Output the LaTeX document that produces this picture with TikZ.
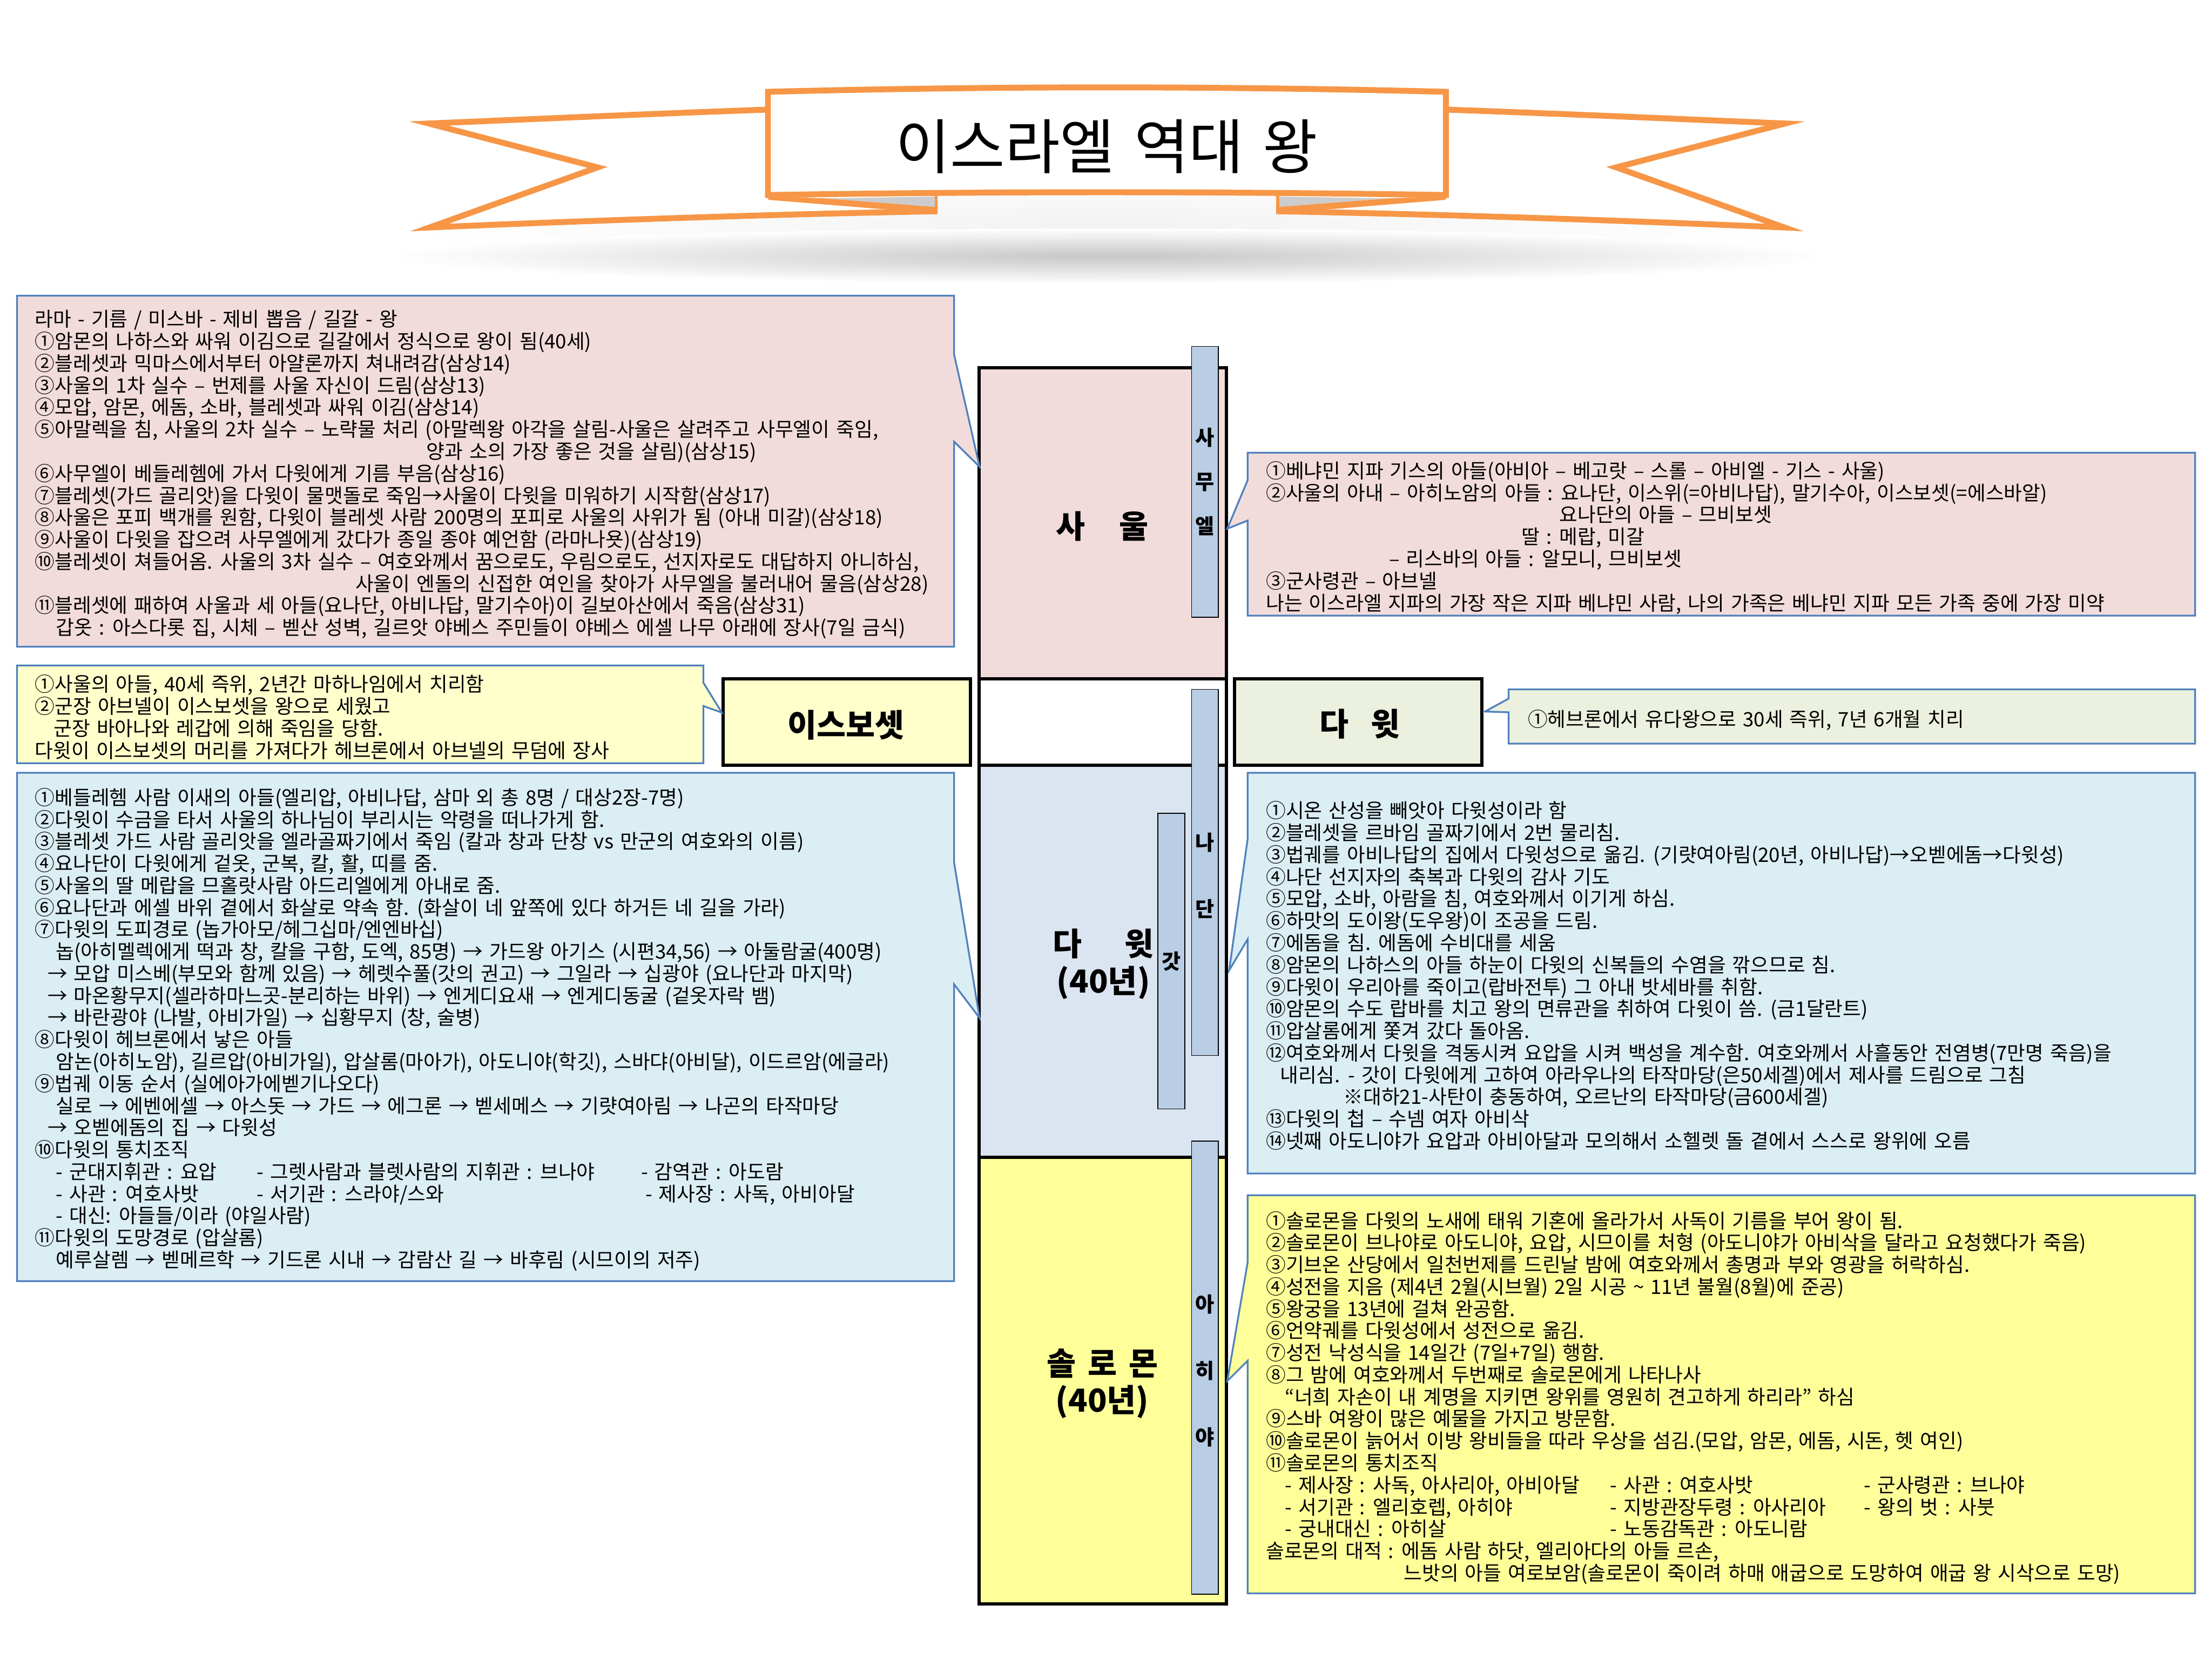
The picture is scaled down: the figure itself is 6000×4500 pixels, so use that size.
\documentclass[tikz,border=0pt]{standalone}
\usepackage{fontspec}
\setmainfont{Noto Sans CJK KR}[WordSpace=1.45]
\newdimen\pxu \pxu=0.25pt
\newcommand{\ind}[1]{\hspace*{#1\pxu}}
\newcommand{\tabc}[2]{\makebox[#1\pxu][l]{#2}}
\definecolor{ribbon}{HTML}{F79646}
\definecolor{calloutline}{HTML}{4F81BD}
\definecolor{saulfill}{HTML}{F2DCDB}
\definecolor{davidfill}{HTML}{DBE5F1}
\definecolor{solfill}{HTML}{FFFF99}
\definecolor{ishfill}{HTML}{FFFFCC}
\definecolor{greenfill}{HTML}{EBF1DE}
\definecolor{bluefill}{HTML}{DBEEF4}
\definecolor{prophet}{HTML}{B9CDE5}
\AtBeginDocument{\lineskiplimit=-30pt\relax}
\tikzset{
  x=0.25pt,y=-0.25pt,
  callout/.style={draw=calloutline,line width=1.2pt,line join=miter},
  body/.style={anchor=north west,inner sep=0pt,outer sep=0pt,align=left,font=\fontsize{13.45}{14.93}\selectfont},
  cell/.style={draw=black,line width=2.2pt},
  headbox/.style={draw=black,line width=2.2pt,inner sep=0pt},
  bigname/.style={inner sep=0pt,align=center,font=\fontsize{21.5}{25}\selectfont\bfseries},
  prophetbox/.style={draw=black,line width=0.6pt,fill=prophet,inner sep=0pt,align=center,font=\fontsize{14}{30}\selectfont\bfseries},
  band/.style={draw=ribbon,line width=4pt,miter limit=12},
}
\newcommand{\ribbontail}{%
  \fill[white] (2090,297) .. controls (1780,308) and (1470,322) .. (1163,335) -- (1621,454) -- (1165,617) .. controls (1600,598) and (2100,581) .. (2543,573) -- (2543,400) -- cycle;
  \draw[band] (2090,297) .. controls (1780,308) and (1470,322) .. (1163,335) -- (1621,454) -- (1165,617) .. controls (1600,598) and (2100,581) .. (2543,573);
  \fill[black!20] (2237,538) -- (2540,533) -- (2540,562) -- cycle;
  \fill[ribbon] (2084,533) -- (2084,542) -- (2378,566) -- (2543,578) -- (2543,562) -- (2237,538) -- cycle;
  \fill[ribbon] (2535,530) rectangle (2543,578);
}
\begin{document}
\begin{tikzpicture}
\useasboundingbox (0,0) rectangle (6000,4500);
\fill[white] (0,0) rectangle (6000,4500);
% shadow
\shade[inner color=black!5,outer color=white] (3005,610) ellipse (1950 and 140);
\shade[inner color=black!22,outer color=white] (3005,695) ellipse (1950 and 75);
% ribbon
\ribbontail
\begin{scope}[shift={(6005,0)},xscale=-1]
\ribbontail
\end{scope}
\draw[band,fill=white] (2083,249) .. controls (2700,233) and (3300,233) .. (3922,249) -- (3922,529) .. controls (3300,519) and (2700,519) .. (2083,529) -- cycle;
\node[inner sep=0pt,font=\fontsize{40.4}{45}\selectfont] (title) at (3002,398) {이스라엘 역대 왕};
% column
\draw[cell,fill=saulfill] (2656,997) rectangle (3327,1841);
\draw[cell,fill=white] (2656,1841) rectangle (3327,2075);
\draw[cell,fill=davidfill] (2656,2075) rectangle (3327,3139);
\draw[cell,fill=solfill] (2656,3139) rectangle (3327,4350);
\node[bigname] (saul) at (2990,1428) {사\hspace{23pt}울};
\node[bigname] (david) at (2993,2615) {다\hspace{29pt}윗\\(40년)};
\node[bigname] (solomon) at (2990,3753) {솔\hspace{8pt}로\hspace{8pt}몬\\(40년)};
% prophets
\node[prophetbox,minimum width=73\pxu,minimum height=735\pxu] (samuel) at (3268.5,1307) {사\\무\\엘};
\node[prophetbox,minimum width=73\pxu,minimum height=993\pxu] (nathan) at (3268.5,2366.5) {\rule{0pt}{16pt}나\\[15pt]단};
\node[prophetbox,minimum width=73\pxu,minimum height=802\pxu] (gad) at (3177,2607) {갓};
\node[prophetbox,minimum width=73\pxu,minimum height=1229\pxu] (ahijah) at (3268.5,3709.5) {\rule{0pt}{16pt}아\\[15pt]히\\[15pt]야};
% heads
\node[headbox,fill=ishfill,minimum width=671\pxu,minimum height=234\pxu] (ishbox) at (2297,1958) {};
\node[bigname] (ishname) at (2294,1967) {이스보셋};
\node[headbox,fill=greenfill,minimum width=671\pxu,minimum height=234\pxu] (davbox) at (3684.5,1958) {};
\node[bigname] (davname) at (3688,1964) {다\hspace{15pt}윗};
% left callouts
\draw[callout,fill=saulfill] (46,802) -- (2588,802) -- (2588,962) -- (2657,1266) -- (2588,1198) -- (2588,1754) -- (46,1754) -- cycle;
\node[body] (t1) at (95,841.5) {\strut 라마 - 기름 / 미스바 - 제비 뽑음 / 길갈 - 왕\\
①암몬의 나하스와 싸워 이김으로 길갈에서 정식으로 왕이 됨(40세)\\
②블레셋과 믹마스에서부터 아얄론까지 쳐내려감(삼상14)\\
③사울의 1차 실수 – 번제를 사울 자신이 드림(삼상13)\\
④모압, 암몬, 에돔, 소바, 블레셋과 싸워 이김(삼상14)\\
⑤아말렉을 침, 사울의 2차 실수 – 노략물 처리 (아말렉왕 아각을 살림-사울은 살려주고 사무엘이 죽임,\\
\ind{1062}양과 소의 가장 좋은 것을 살림)(삼상15)\\
⑥사무엘이 베들레헴에 가서 다윗에게 기름 부음(삼상16)\\
⑦블레셋(가드 골리앗)을 다윗이 물맷돌로 죽임→사울이 다윗을 미워하기 시작함(삼상17)\\
⑧사울은 포피 백개를 원함, 다윗이 블레셋 사람 200명의 포피로 사울의 사위가 됨 (아내 미갈)(삼상18)\\
⑨사울이 다윗을 잡으려 사무엘에게 갔다가 종일 종야 예언함 (라마나욧)(삼상19)\\
⑩블레셋이 쳐들어옴. 사울의 3차 실수 – 여호와께서 꿈으로도, 우림으로도, 선지자로도 대답하지 아니하심,\\
\ind{869}사울이 엔돌의 신접한 여인을 찾아가 사무엘을 불러내어 물음(삼상28)\\
⑪블레셋에 패하여 사울과 세 아들(요나단, 아비나답, 말기수아)이 길보아산에서 죽음(삼상31)\\
\ind{57}갑옷 : 아스다롯 집, 시체 – 벧산 성벽, 길르앗 야베스 주민들이 야베스 에셀 나무 아래에 장사(7일 금식)};
\draw[callout,fill=ishfill] (46,1805) -- (1908,1805) -- (1908,1852) -- (1958,1933) -- (1908,1915) -- (1908,2070) -- (46,2070) -- cycle;
\node[body] (t2) at (95,1830.5) {\strut ①사울의 아들, 40세 즉위, 2년간 마하나임에서 치리함\\
②군장 아브넬이 이스보셋을 왕으로 세웠고\\
\ind{51}군장 바아나와 레갑에 의해 죽임을 당함.\\
다윗이 이스보셋의 머리를 가져다가 헤브론에서 아브넬의 무덤에 장사};
\draw[callout,fill=bluefill] (46,2096) -- (2588,2096) -- (2588,2340) -- (2657,2761) -- (2588,2670) -- (2588,3475) -- (46,3475) -- cycle;
\node[body] (t3) at (95,2137.5) {\strut ①베들레헴 사람 이새의 아들(엘리압, 아비나답, 삼마 외 총 8명 / 대상2장-7명)\\
②다윗이 수금을 타서 사울의 하나님이 부리시는 악령을 떠나가게 함.\\
③블레셋 가드 사람 골리앗을 엘라골짜기에서 죽임 (칼과 창과 단창 vs 만군의 여호와의 이름)\\
④요나단이 다윗에게 겉옷, 군복, 칼, 활, 띠를 줌.\\
⑤사울의 딸 메랍을 므홀랏사람 아드리엘에게 아내로 줌.\\
⑥요나단과 에셀 바위 곁에서 화살로 약속 함. (화살이 네 앞쪽에 있다 하거든 네 길을 가라)\\
⑦다윗의 도피경로 (놉가아모/헤그십마/엔엔바십)\\
\ind{57}놉(아히멜렉에게 떡과 창, 칼을 구함, 도엑, 85명) → 가드왕 아기스 (시편34,56) → 아둘람굴(400명)\\
\ind{34}→ 모압 미스베(부모와 함께 있음) → 헤렛수풀(갓의 권고) → 그일라 → 십광야 (요나단과 마지막)\\
\ind{34}→ 마온황무지(셀라하마느곳-분리하는 바위) → 엔게디요새 → 엔게디동굴 (겉옷자락 뱀)\\
\ind{34}→ 바란광야 (나발, 아비가일) → 십황무지 (창, 술병)\\
⑧다윗이 헤브론에서 낳은 아들\\
\ind{57}암논(아히노암), 길르압(아비가일), 압살롬(마아가), 아도니야(학깃), 스바댜(아비달), 이드르암(에글라)\\
⑨법궤 이동 순서 (실에아가에벧기나오다)\\
\ind{57}실로 → 에벤에셀 → 아스돗 → 가드 → 에그론 → 벧세메스 → 기럇여아림 → 나곤의 타작마당\\
\ind{34}→ 오벧에돔의 집 → 다윗성\\
⑩다윗의 통치조직\\
\ind{57}\tabc{545}{- 군대지휘관 : 요압}\tabc{1042}{- 그렛사람과 블렛사람의 지휘관 : 브나야}- 감역관 : 아도람\\
\ind{57}\tabc{545}{- 사관 : 여호사밧}\tabc{1054}{- 서기관 : 스라야/스와}- 제사장 : 사독, 아비아달\\
\ind{57}- 대신: 아들들/이라 (야일사람)\\
⑪다윗의 도망경로 (압살롬)\\
\ind{57}예루살렘 → 벧메르학 → 기드론 시내 → 감람산 길 → 바후림 (시므이의 저주)};
% right callouts
\draw[callout,fill=saulfill] (5954,1228) -- (3384,1228) -- (3384,1303) -- (3329,1434) -- (3384,1412) -- (3384,1670) -- (5954,1670) -- cycle;
\node[body] (t4) at (3434,1251.5) {\strut ①베냐민 지파 기스의 아들(아비아 – 베고랏 – 스롤 – 아비엘 - 기스 - 사울)\\
②사울의 아내 – 아히노암의 아들 : 요나단, 이스위(=아비나답), 말기수아, 이스보셋(=에스바알)\\
\ind{796}요나단의 아들 – 므비보셋\\
\ind{693}딸 : 메랍, 미갈\\
\ind{334}– 리스바의 아들 : 알모니, 므비보셋\\
③군사령관 – 아브넬\\
나는 이스라엘 지파의 가장 작은 지파 베냐민 사람, 나의 가족은 베냐민 지파 모든 가족 중에 가장 미약};
\draw[callout,fill=greenfill] (5954,1870) -- (4092,1870) -- (4092,1895) -- (4028,1930) -- (4092,1932) -- (4092,2017) -- (5954,2017) -- cycle;
\node[body] (t5) at (4144,1925.5) {\strut ①헤브론에서 유다왕으로 30세 즉위, 7년 6개월 치리};
\draw[callout,fill=bluefill] (5954,2096) -- (3384,2096) -- (3384,2277) -- (3334,2632) -- (3384,2548) -- (3384,3183) -- (5954,3183) -- cycle;
\node[body] (t6) at (3434,2173.5) {\strut ①시온 산성을 빼앗아 다윗성이라 함\\
②블레셋을 르바임 골짜기에서 2번 물리침.\\
③법궤를 아비나답의 집에서 다윗성으로 옮김. (기럇여아림(20년, 아비나답)→오벧에돔→다윗성)\\
④나단 선지자의 축복과 다윗의 감사 기도\\
⑤모압, 소바, 아람을 침, 여호와께서 이기게 하심.\\
⑥하맛의 도이왕(도우왕)이 조공을 드림.\\
⑦에돔을 침. 에돔에 수비대를 세움\\
⑧암몬의 나하스의 아들 하눈이 다윗의 신복들의 수염을 깎으므로 침.\\
⑨다윗이 우리아를 죽이고(랍바전투) 그 아내 밧세바를 취함.\\
⑩암몬의 수도 랍바를 치고 왕의 면류관을 취하여 다윗이 씀. (금1달란트)\\
⑪압살롬에게 쫓겨 갔다 돌아옴.\\
⑫여호와께서 다윗을 격동시켜 요압을 시켜 백성을 계수함. 여호와께서 사흘동안 전염병(7만명 죽음)을\\
\ind{38}내리심. - 갓이 다윗에게 고하여 아라우나의 타작마당(은50세겔)에서 제사를 드림으로 그침\\
\ind{210}※대하21-사탄이 충동하여, 오르난의 타작마당(금600세겔)\\
⑬다윗의 첩 – 수넴 여자 아비삭\\
⑭넷째 아도니야가 요압과 아비아달과 모의해서 소헬렛 돌 곁에서 스스로 왕위에 오름};
\draw[callout,fill=solfill] (5954,3242) -- (3384,3242) -- (3384,3425) -- (3329,3746) -- (3384,3691) -- (3384,4322) -- (5954,4322) -- cycle;
\node[body] (t7) at (3434,3285.5) {\strut ①솔로몬을 다윗의 노새에 태워 기혼에 올라가서 사독이 기름을 부어 왕이 됨.\\
②솔로몬이 브나야로 아도니야, 요압, 시므이를 처형 (아도니야가 아비삭을 달라고 요청했다가 죽음)\\
③기브온 산당에서 일천번제를 드린날 밤에 여호와께서 총명과 부와 영광을 허락하심.\\
④성전을 지음 (제4년 2월(시브월) 2일 시공 {\char`\~} 11년 불월(8월)에 준공)\\
⑤왕궁을 13년에 걸쳐 완공함.\\
⑥언약궤를 다윗성에서 성전으로 옮김.\\
⑦성전 낙성식을 14일간 (7일+7일) 행함.\\
⑧그 밤에 여호와께서 두번째로 솔로몬에게 나타나사\\
\ind{52}“너희 자손이 내 계명을 지키면 왕위를 영원히 견고하게 하리라” 하심\\
⑨스바 여왕이 많은 예물을 가지고 방문함.\\
⑩솔로몬이 늙어서 이방 왕비들을 따라 우상을 섬김.(모압, 암몬, 에돔, 시돈, 헷 여인)\\
⑪솔로몬의 통치조직\\
\ind{52}\tabc{882}{- 제사장 : 사독, 아사리아, 아비아달}\tabc{688}{- 사관 : 여호사밧}- 군사령관 : 브나야\\
\ind{52}\tabc{882}{- 서기관 : 엘리호렙, 아히야}\tabc{688}{- 지방관장두령 : 아사리아}- 왕의 벗 : 사붓\\
\ind{52}\tabc{882}{- 궁내대신 : 아히살}- 노동감독관 : 아도니람\\
솔로몬의 대적 : 에돔 사람 하닷, 엘리아다의 아들 르손,\\
\ind{374}느밧의 아들 여로보암(솔로몬이 죽이려 하매 애굽으로 도망하여 애굽 왕 시삭으로 도망)};
\end{tikzpicture}
\end{document}
